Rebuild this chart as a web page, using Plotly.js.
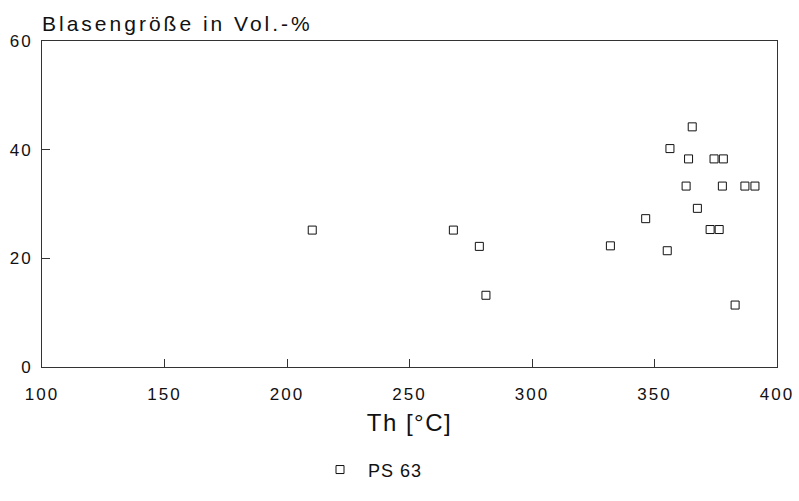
<!DOCTYPE html>
<html>
<head>
<meta charset="utf-8">
<script src="https://cdn.plot.ly/plotly-3.0.1.min.js"></script>
<style>
  body { margin: 0; padding: 0; background: #fff; }
  #chart { width: 799px; height: 501px; }
  .gtitle { letter-spacing: 3px; }
  .xtick text, .ytick text { letter-spacing: 2px; }
  .xtitle { letter-spacing: 1.5px; }
  .legendtext { letter-spacing: 1px; }
</style>
</head>
<body>
<div id="chart"></div>
<script>
// Homogenization temperature Th [°C]
const thValues = [210.3, 267.9, 278.5, 281.2, 332.0, 346.4, 355.2, 356.3, 362.9, 363.9,
                  365.4, 367.5, 372.7, 374.3, 376.4, 377.7, 378.1, 382.9, 386.9, 391.0];
// Bubble size in Vol.-%
const bubbleSize = [25.2, 25.2, 22.2, 13.2, 22.3, 27.3, 21.4, 40.2, 33.3, 38.3,
                    44.2, 29.2, 25.3, 38.3, 25.3, 33.3, 38.3, 11.4, 33.3, 33.3];
const seriesName = "PS 63";
const xTicks = [100, 150, 200, 250, 300, 350, 400];
const yTicks = [0, 20, 40, 60];

const FONT = "Liberation Sans, Arial, Helvetica, sans-serif";

const trace = {
  x: thValues,
  y: bubbleSize,
  name: seriesName,
  type: "scatter",
  mode: "markers",
  marker: { symbol: "square-open", size: 8, color: "#111", line: { width: 1, color: "#111" } },
  showlegend: true
};

const layout = {
  width: 799,
  height: 501,
  paper_bgcolor: "#fff",
  plot_bgcolor: "#fff",
  margin: { l: 42, r: 22, t: 41, b: 124 },
  font: { family: FONT, color: "#111" },
  title: {
    text: "Blasengröße in Vol.-%",
    font: { family: FONT, size: 21, color: "#111" },
    xref: "paper", x: 0, xanchor: "left",
    yref: "container", y: 1 - 24 / 501, yanchor: "middle"
  },
  xaxis: {
    range: [100, 400],
    tickvals: xTicks,
    ticktext: xTicks.map(String),
    ticks: "inside", ticklen: 8, tickwidth: 1, tickcolor: "#333",
    showline: true, linecolor: "#333", linewidth: 1, mirror: true,
    showgrid: false, zeroline: false,
    tickfont: { family: FONT, size: 17, color: "#111" },
    ticklabelstandoff: 12,
    title: { text: "Th [°C]", font: { family: FONT, size: 24, color: "#111" }, standoff: 10 }
  },
  yaxis: {
    range: [0, 60],
    tickvals: yTicks,
    ticktext: yTicks.map(String),
    ticks: "inside", ticklen: 8, tickwidth: 1, tickcolor: "#333",
    showline: true, linecolor: "#333", linewidth: 1, mirror: true,
    showgrid: false, zeroline: false,
    tickfont: { family: FONT, size: 17, color: "#111" },
    ticklabelstandoff: 5
  },
  showlegend: true,
  legend: {
    orientation: "h",
    x: (312 - 42) / 735, xanchor: "left",
    y: (377 - 483) / 336, yanchor: "middle",
    itemwidth: 46,
    font: { family: FONT, size: 18, color: "#111" },
    bgcolor: "rgba(0,0,0,0)"
  }
};

Plotly.newPlot("chart", [trace], layout, { staticPlot: true, displayModeBar: false });
</script>
</body>
</html>
